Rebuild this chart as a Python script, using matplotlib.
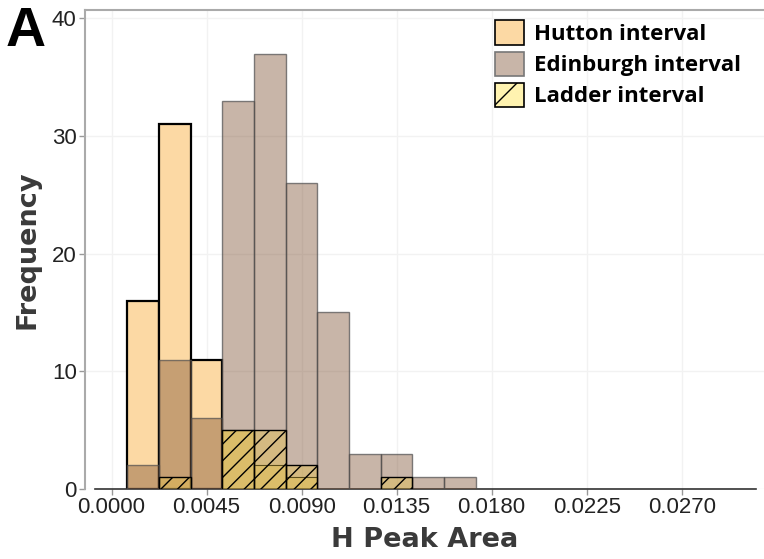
import numpy as np
import matplotlib
matplotlib.use("Agg")
import matplotlib.pyplot as plt
from matplotlib.patches import Patch

# bin edges (H peak area) and counts per bin
bin_edges = [0.00075, 0.00225, 0.00375, 0.00525, 0.00675, 0.00825,
             0.00975, 0.01125, 0.01275, 0.01425, 0.01575, 0.01725]
hutton = [16, 31, 11, 0, 0, 0, 0, 0, 0, 0, 0]
edinburgh = [2, 11, 6, 33, 37, 26, 15, 3, 3, 1, 1]
ladder = [0, 1, 0, 5, 5, 2, 0, 0, 1, 0, 0]
ladder_dark = [0, 0, 0, 5, 2, 1, 0, 0, 0, 0, 0]  # darker overlapping part seen in the picture

x_ticks = [0.0, 0.0045, 0.0090, 0.0135, 0.0180, 0.0225, 0.0270]
x_tick_labels = ["0.0000", "0.0045", "0.0090", "0.0135", "0.0180", "0.0225", "0.0270"]
y_ticks = [0, 10, 20, 30, 40]

tick_font = "Liberation Sans"
heavy_font = "DejaVu Sans"

plt.rcParams["hatch.linewidth"] = 1.0

fig = plt.figure(figsize=(7.64, 5.59), dpi=100)
ax = fig.add_axes([85 / 764, 1 - 489 / 559, 679 / 764, 479 / 559])

edges = np.array(bin_edges)
left = edges[:-1]
width = np.diff(edges)


def draw(counts, **kw):
    counts = np.array(counts)
    m = counts > 0
    ax.bar(left[m], counts[m], width=width[m], align="edge", **kw)


draw(hutton, color="#FCD9A4", edgecolor="black", linewidth=1.6, zorder=2)
draw(edinburgh, color=(0.49, 0.31, 0.19, 0.42), edgecolor=(0.3, 0.3, 0.3, 0.7),
     linewidth=1.0, zorder=3)
draw(ladder_dark, color=(0.91, 0.77, 0.28, 0.4), edgecolor="black", linewidth=0.8, zorder=4)
draw(ladder, color=(0.91, 0.77, 0.28, 0.4), edgecolor="black", linewidth=1.0,
     hatch="//", zorder=5)

ax.set_xlim(-0.00126, 0.0309)
ax.set_ylim(0, 40.7)
ax.set_xticks(x_ticks)
ax.set_xticklabels(x_tick_labels, fontfamily=tick_font, fontsize=16, color="#222222")
ax.set_yticks(y_ticks)
ax.set_yticklabels([str(v) for v in y_ticks], fontfamily=tick_font, fontsize=16,
                   color="#222222")
ax.tick_params(axis="both", length=4, width=1, color="#999999", pad=2)

ax.grid(True, color="#f2f2f2", linewidth=1, zorder=0)
ax.set_axisbelow(True)

for s in ["left", "top"]:
    ax.spines[s].set_color("#aaaaaa")
    ax.spines[s].set_linewidth(1.5)
ax.spines["right"].set_visible(False)
ax.spines["bottom"].set_color("#333333")
ax.spines["bottom"].set_linewidth(1.2)
ax.spines["bottom"].set_bounds(-0.0008, 0.0305)

ax.set_xlabel("H Peak Area", fontfamily=heavy_font, fontweight="bold", fontsize=19.5,
              color="#3a3a3a", labelpad=6)
ax.set_ylabel("Frequency", fontfamily=heavy_font, fontweight="bold", fontsize=19.5,
              color="#3a3a3a", labelpad=8)

handles = [
    Patch(facecolor="#FCD9A4", edgecolor="black", linewidth=1.2, label="Hutton interval"),
    Patch(facecolor="#C8B5A8", edgecolor="#777777", linewidth=1.2, label="Edinburgh interval"),
    Patch(facecolor="#FFF3B0", edgecolor="black", linewidth=1.2, hatch="/", label="Ladder interval"),
]
leg = ax.legend(handles=handles, loc="upper right", bbox_to_anchor=(0.995, 1.02),
                frameon=False, handlelength=1.3, handleheight=1.3, handletextpad=0.45,
                labelspacing=0.3, prop={"family": "Open Sans", "weight": "bold", "size": 16})

fig.text(6 / 764, 1 - 6 / 559, "A", fontsize=40, fontweight="bold", fontfamily="Liberation Sans",
         va="top", ha="left")

fig.savefig("out.png", dpi=100)
